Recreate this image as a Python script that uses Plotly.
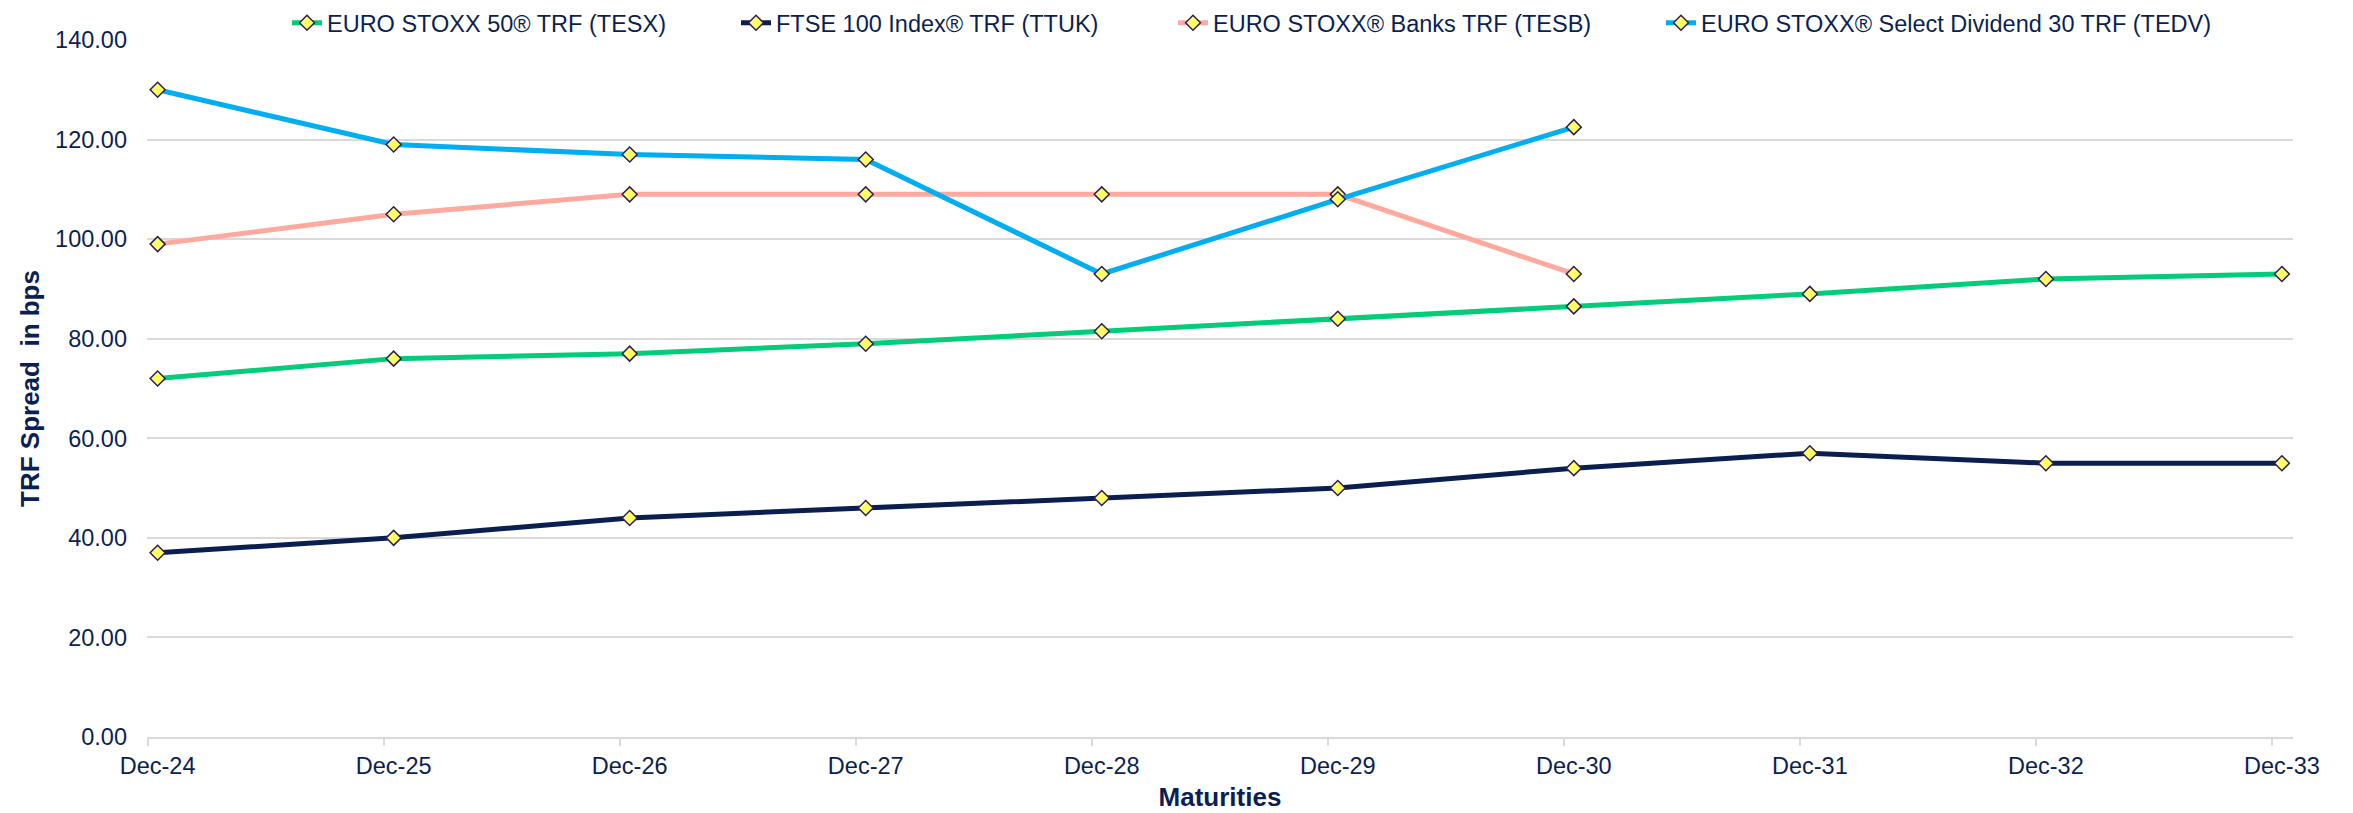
import plotly.graph_objects as go

categories = ["Dec-24", "Dec-25", "Dec-26", "Dec-27", "Dec-28", "Dec-29", "Dec-30", "Dec-31", "Dec-32", "Dec-33"]
tesx = [72, 76, 77, 79, 81.5, 84, 86.5, 89, 92, 93]
ttuk = [37, 40, 44, 46, 48, 50, 54, 57, 55, 55]
tesb = [99, 105, 109, 109, 109, 109, 93, None, None, None]
tedv = [130, 119, 117, 116, 93, 108, 122.5, None, None, None]
y_ticks = [0, 20, 40, 60, 80, 100, 120, 140]

series_names = ["EURO STOXX 50® TRF (TESX)", "FTSE 100 Index® TRF (TTUK)",
                "EURO STOXX® Banks TRF (TESB)", "EURO STOXX® Select Dividend 30 TRF (TEDV)"]
series_values = [tesx, ttuk, tesb, tedv]
series_colors = ["#00CC7A", "#0A1E4F", "#FFA99F", "#00AEEF"]
legend_text_x = [326, 775, 1212, 1700]  # pixel x where each legend label starts

W, H = 2353, 813
xs = list(range(len(categories)))
text_color = "#0B1F51"
grid_color = "#D9D9D9"
FS = 23.5

fig = go.Figure()
layout_legends = {}
for i, (name, vals, color) in enumerate(zip(series_names, series_values, series_colors)):
    lg = "legend" if i == 0 else f"legend{i + 1}"
    fig.add_trace(go.Scatter(
        x=xs, y=vals, name=name, mode="lines+markers",
        line=dict(color=color, width=5),
        marker=dict(symbol="diamond", size=11.5, color="#FFFF66",
                    line=dict(color="#2B1F55", width=1.5)),
        connectgaps=False, legend=lg,
    ))
    layout_legends[lg] = dict(
        xref="container", yref="container",
        x=(legend_text_x[i] - 47) / W, xanchor="left",
        y=1 - 15 / H, yanchor="middle",
        orientation="h", font=dict(size=FS, color=text_color),
        bgcolor="rgba(0,0,0,0)", borderwidth=0,
    )

fig.update_layout(
    width=W, height=H,
    margin=dict(l=139, r=68, t=32, b=84, autoexpand=False),
    paper_bgcolor="white", plot_bgcolor="white",
    font=dict(family="Liberation Sans, Arial, sans-serif", size=FS, color=text_color),
    showlegend=True,
    **layout_legends,
)

fig.update_xaxes(
    range=[-0.045, 9.047], automargin=False,
    tickmode="array", tickvals=xs, ticktext=categories,
    ticks="", showgrid=False, zeroline=False,
    showline=True, linecolor=grid_color, linewidth=2,
    minor=dict(tickmode="array", tickvals=[i - 0.042 for i in xs], ticks="outside",
               ticklen=7, tickcolor=grid_color, tickwidth=2, showgrid=False),
    ticklabelstandoff=7,
    tickfont=dict(size=FS, color=text_color),
    title=dict(text="<b>Maturities</b>", font=dict(size=26, color=text_color), standoff=10),
)

fig.update_yaxes(
    range=[0, 140], automargin=False,
    tickmode="array", tickvals=y_ticks, ticktext=[f"{v:.2f}" for v in y_ticks],
    showgrid=True, gridcolor=grid_color, gridwidth=2,
    zeroline=False, showline=False, ticks="",
    ticklabelstandoff=19,
    tickfont=dict(size=FS, color=text_color),
    title=dict(text="<b>TRF Spread  in bps</b>", font=dict(size=26, color=text_color), standoff=8),
)

fig.write_html("out.html")
